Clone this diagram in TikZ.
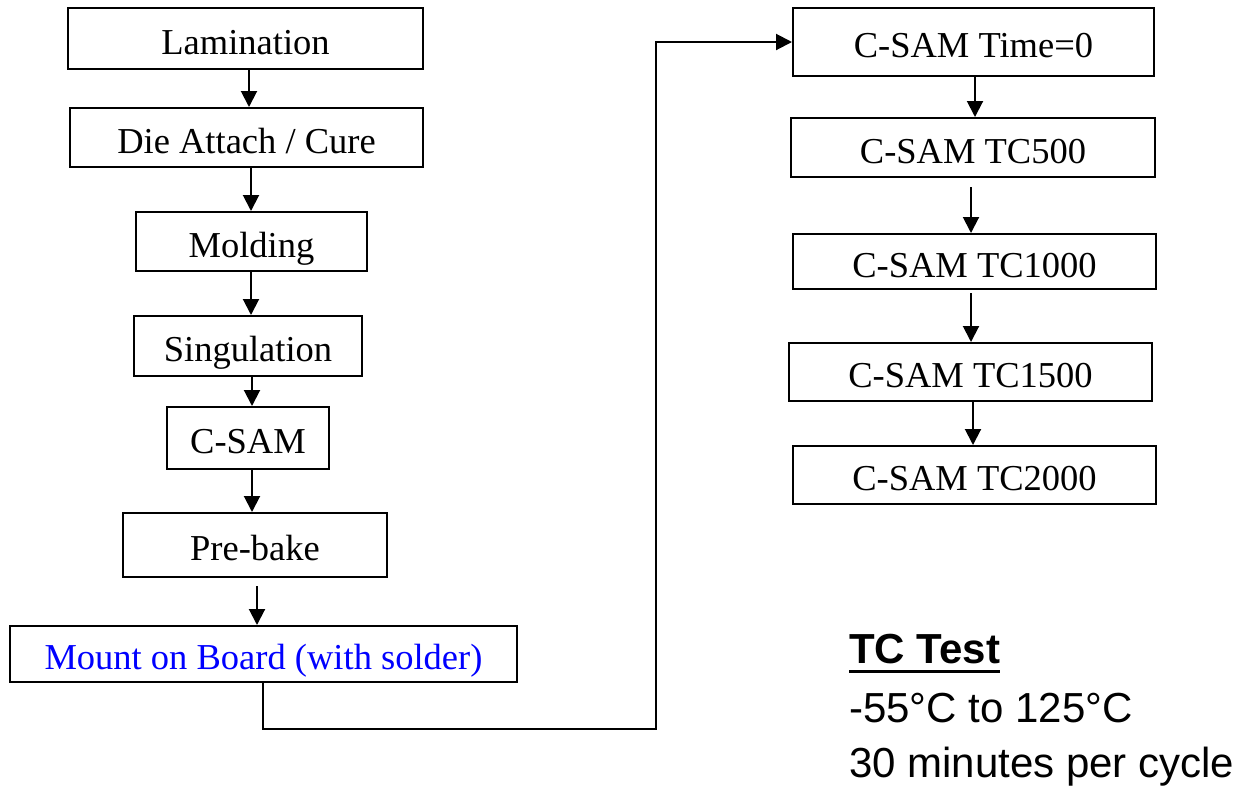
\documentclass[tikz,border=0pt]{standalone}
\usepackage{fontspec}
\setmainfont{Liberation Serif}
\newfontfamily\arialfont{Liberation Sans}
\usetikzlibrary{arrows.meta}
\begin{document}
\begin{tikzpicture}[x=1pt,y=-1pt,
  stepbox/.style={draw,line width=2pt,inner sep=0pt,text height=31pt,text depth=0pt,font=\fontsize{36.5}{40}\selectfont},
  arr/.style={line width=2pt,-{Triangle[width=16pt,length=16pt]}},
  note/.style={anchor=base west,inner sep=0pt,font=\arialfont\fontsize{42}{46}\selectfont}]
\useasboundingbox[fill=white] (0,0) rectangle (1247,793);
% left column
\node[stepbox,minimum width=355pt,minimum height=61pt] (lam) at (245.5,38.5) {Lamination};
\node[stepbox,minimum width=353pt,minimum height=59pt] (die) at (246.5,137.5) {Die Attach / Cure};
\node[stepbox,minimum width=231pt,minimum height=59pt] (mold) at (251.5,241.5) {Molding};
\node[stepbox,minimum width=228pt,minimum height=60pt] (sing) at (248,346) {Singulation};
\node[stepbox,minimum width=162pt,minimum height=62pt] (csam) at (248,438) {C-SAM};
\node[stepbox,minimum width=264pt,minimum height=64pt] (pre) at (255,545) {Pre-bake};
\node[stepbox,minimum width=507pt,minimum height=56pt,text=blue] (mount) at (263.5,654) {Mount on Board (with solder)};
% right column
\node[stepbox,minimum width=361pt,minimum height=68pt] (t0) at (973.5,42) {C-SAM Time=0};
\node[stepbox,minimum width=364pt,minimum height=59pt] (t500) at (973,147.5) {C-SAM TC500};
\node[stepbox,minimum width=363pt,minimum height=55pt] (t1000) at (974.5,261.5) {C-SAM TC1000};
\node[stepbox,minimum width=363pt,minimum height=58pt] (t1500) at (970.5,372) {C-SAM TC1500};
\node[stepbox,minimum width=363pt,minimum height=58pt] (t2000) at (974.5,475) {C-SAM TC2000};
% notes
\node[note,font=\arialfont\bfseries\fontsize{42}{46}\selectfont] (tc) at (849,663) {TC Test};
\draw[line width=3pt] ([yshift=-8.5pt]tc.base west) -- ([yshift=-8.5pt]tc.base east);
\node[note] (range) at (849,722) {-55°C to 125°C};
\node[note] (cyc) at (849,777) {30 minutes per cycle};
% arrows left
\draw[arr] ([xshift=3.5pt]lam.south) -- ([xshift=2.5pt]die.north);
\draw[arr] ([xshift=4.5pt]die.south) -- ([xshift=-0.5pt]mold.north);
\draw[arr] ([xshift=-0.5pt]mold.south) -- ([xshift=3pt]sing.north);
\draw[arr] ([xshift=4pt]sing.south) -- ([xshift=4pt]csam.north);
\draw[arr] ([xshift=4pt]csam.south) -- ([xshift=-3pt]pre.north);
\draw[arr] ([xshift=2pt,yshift=-8pt]pre.south) -- ([xshift=-6.5pt]mount.north);
% loop connector
\coordinate (bend) at (656,729);
\draw[arr] ([xshift=-0.5pt]mount.south) |- (bend) |- (t0.west);
% arrows right
\draw[arr] ([xshift=1.5pt]t0.south) -- ([xshift=2pt]t500.north);
\draw[arr] ([xshift=-2pt,yshift=-9pt]t500.south) -- ([xshift=-3.5pt]t1000.north);
\draw[arr] ([xshift=-3.5pt,yshift=-3pt]t1000.south) -- ([xshift=0.5pt]t1500.north);
\draw[arr] ([xshift=2.5pt]t1500.south) -- ([xshift=-1.5pt]t2000.north);
\end{tikzpicture}
\end{document}
